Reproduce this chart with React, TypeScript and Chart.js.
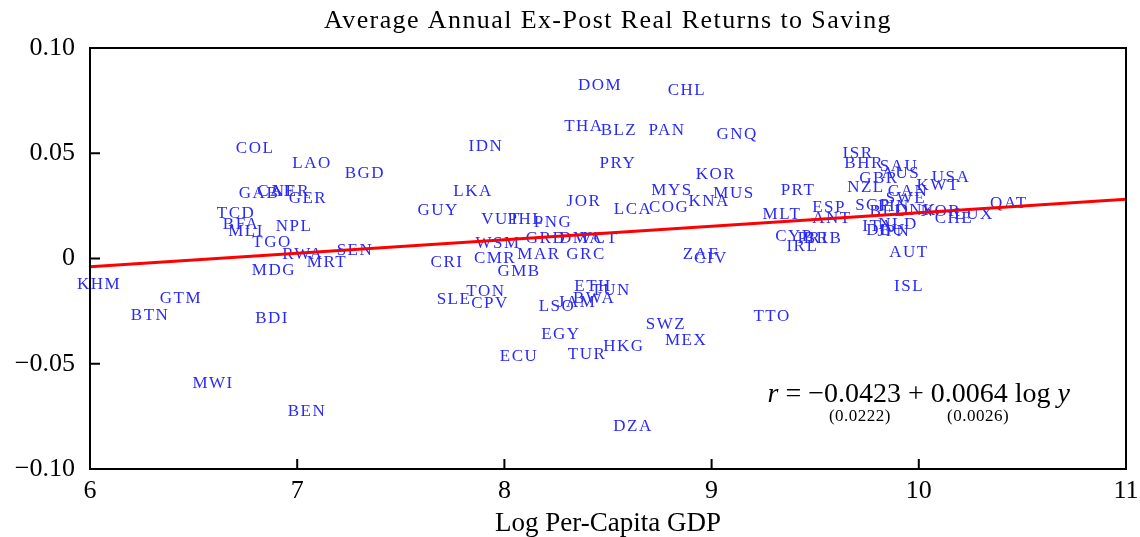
import React, { useEffect, useRef } from "react";
import { Chart, registerables } from "chart.js";

Chart.register(...registerables);

const countries = [
  "KHM","BTN","GTM","MWI","COL","TCD","BFA","MLI","GAB","CAF","NER","GER","NPL","TGO","MDG","BDI","LAO","RWA","MRT","BEN",
  "SEN","BGD","GUY","CRI","SLE","LKA","IDN","TON","CPV","CMR","WSM","VUT","GMB","ECU","PHL","MAR","GRD","PNG","LSO","EGY",
  "JAM","DMA","THA","JOR","GRC","TUR","ETH","BWA","VCT","DOM","TUN","PRY","BLZ","HKG","LCA","DZA","SWZ","PAN","COG","MYS",
  "MEX","CHL","ZAF","KNA","CIV","KOR","MUS","GNQ","TTO","MLT","CYP","PRT","IRL","PRI","BRB","ESP","ANT","ISR","BHR","NZL",
  "SGP","ITA","GBR","BEL","DEU","FIN","JPN","NLD","SAU","AUS","SWE","CAN","AUT","ISL","DNK","KWT","NOR","USA","CHE","LUX","QAT",
];
const logGdp = [
  6.039,6.285,6.434,6.589,6.792,6.700,6.724,6.748,6.811,6.893,6.965,7.047,6.980,6.874,6.883,6.874,7.067,7.023,7.139,7.042,
  7.274,7.322,7.675,7.718,7.752,7.844,7.906,7.906,7.926,7.950,7.964,7.979,8.066,8.066,8.099,8.162,8.196,8.230,8.249,8.268,
  8.346,8.365,8.379,8.379,8.389,8.394,8.423,8.428,8.452,8.457,8.510,8.543,8.548,8.572,8.616,8.616,8.775,8.780,8.790,8.804,
  8.872,8.876,8.944,8.983,8.992,9.016,9.103,9.118,9.287,9.335,9.393,9.412,9.433,9.485,9.533,9.562,9.576,9.702,9.731,9.740,
  9.774,9.798,9.803,9.846,9.837,9.875,9.875,9.895,9.900,9.909,9.933,9.943,9.948,9.948,9.982,10.088,10.102,10.151,10.165,10.262,10.430,
];
const realReturn = [
  -0.0126,-0.0273,-0.0188,-0.0596,0.0524,0.0216,0.0159,0.0126,0.0311,0.0316,0.0316,0.0283,0.0154,0.0074,-0.0059,-0.0283,0.0449,0.0021,-0.0017,-0.0729,
  0.0040,0.0406,0.0230,-0.0021,-0.0197,0.0316,0.0534,-0.0159,-0.0216,0.0002,0.0069,0.0183,-0.0064,-0.0468,0.0183,0.0021,0.0097,0.0173,-0.0226,-0.0363,
  -0.0207,0.0097,0.0625,0.0273,0.0021,-0.0454,-0.0135,-0.0192,0.0097,0.0824,-0.0154,0.0449,0.0610,-0.0420,0.0235,-0.0800,-0.0316,0.0606,0.0240,0.0321,
  -0.0392,0.0796,0.0017,0.0273,0.0000,0.0397,0.0311,0.0591,-0.0278,0.0211,0.0102,0.0321,0.0059,0.0097,0.0097,0.0240,0.0192,0.0501,0.0449,0.0335,
  0.0254,0.0150,0.0382,0.0221,0.0135,0.0245,0.0126,0.0159,0.0435,0.0406,0.0287,0.0316,0.0026,-0.0131,0.0226,0.0349,0.0221,0.0387,0.0192,0.0207,0.0259,
];

const fitX = [6, 11];
const fitY = [-0.0039, 0.0281];

const xTickValues = [6, 7, 8, 9, 10, 11];
const yTickValues = [-0.1, -0.05, 0, 0.05, 0.1];
const yTickLabels = ["\u22120.10", "\u22120.05", "0", "0.05", "0.10"];

const titleText = "Average Annual Ex-Post Real Returns to Saving";
const xAxisTitle = "Log Per-Capita GDP";
const formulaMain = ["r", " = \u22120.0423 + 0.0064 log ", "y"];
const formulaSE = ["(0.0222)", "(0.0026)"];
const formulaPos = { x: 10.0, y: -0.0648 };
const sePosX = [9.716, 10.286];
const sePosY = -0.0752;

const SERIF = "'Liberation Serif', 'Times New Roman', serif";

const setSpacing = (ctx: any, v: string) => {
  try { ctx.letterSpacing = v; } catch (e) {}
};

const overlayPlugin = {
  id: "overlay",
  beforeDatasetsDraw(chart: any) {
    const { ctx, scales } = chart;
    const xs = scales.x;
    const ys = scales.y;
    ctx.save();
    ctx.font = `17px ${SERIF}`;
    setSpacing(ctx, "1.5px");
    ctx.fillStyle = "#2a2af8";
    ctx.textAlign = "center";
    ctx.textBaseline = "middle";
    countries.forEach((c, i) => {
      ctx.fillText(c, xs.getPixelForValue(logGdp[i]) + 1, ys.getPixelForValue(realReturn[i]));
    });
    ctx.restore();
  },
  afterDraw(chart: any) {
    const { ctx, chartArea, scales } = chart;
    const xs = scales.x;
    const ys = scales.y;
    const { left, right, top, bottom } = chartArea;
    ctx.save();
    ctx.strokeStyle = "#000";
    ctx.lineWidth = 2;
    ctx.strokeRect(left, top, right - left, bottom - top);
    const tl = 10;
    ctx.beginPath();
    yTickValues.forEach((v) => {
      const py = ys.getPixelForValue(v);
      ctx.moveTo(left, py);
      ctx.lineTo(left + tl, py);
    });
    xTickValues.forEach((v) => {
      const px = xs.getPixelForValue(v);
      ctx.moveTo(px, bottom);
      ctx.lineTo(px, bottom - tl);
    });
    ctx.stroke();

    ctx.fillStyle = "#000";
    ctx.textAlign = "center";
    ctx.textBaseline = "middle";
    ctx.font = `26px ${SERIF}`;
    setSpacing(ctx, "1.4px");
    ctx.fillText(titleText, (left + right) / 2, 21);

    setSpacing(ctx, "0px");
    const fx = xs.getPixelForValue(formulaPos.x);
    const fy = ys.getPixelForValue(formulaPos.y);
    const fonts = [`italic 28px ${SERIF}`, `28px ${SERIF}`, `italic 28px ${SERIF}`];
    const widths = formulaMain.map((t, i) => {
      ctx.font = fonts[i];
      return ctx.measureText(t).width;
    });
    const total = widths.reduce((a, b) => a + b, 0);
    let cx = fx - total / 2;
    ctx.textAlign = "left";
    formulaMain.forEach((t, i) => {
      ctx.font = fonts[i];
      ctx.fillText(t, cx, fy);
      cx += widths[i];
    });
    ctx.textAlign = "center";
    ctx.font = `17px ${SERIF}`;
    setSpacing(ctx, "0.5px");
    formulaSE.forEach((t, i) => {
      ctx.fillText(t, xs.getPixelForValue(sePosX[i]), ys.getPixelForValue(sePosY));
    });
    ctx.restore();
  },
};

export default function App() {
  const canvasRef = useRef<HTMLCanvasElement | null>(null);

  useEffect(() => {
    document.body.style.margin = "0";
    const canvas = canvasRef.current;
    if (!canvas) return;
    const chart = new Chart(canvas, {
      type: "scatter",
      data: {
        datasets: [
          {
            type: "line",
            label: "fit",
            data: fitX.map((x, i) => ({ x, y: fitY[i] })),
            borderColor: "#ff0000",
            borderWidth: 3,
            pointRadius: 0,
            fill: false,
          } as any,
        ],
      },
      options: {
        responsive: false,
        animation: false,
        devicePixelRatio: 1,
        layout: { padding: { top: 48, right: 14, left: 0, bottom: 0 } },
        plugins: {
          legend: { display: false },
          tooltip: { enabled: false },
          title: { display: false },
        },
        scales: {
          x: {
            type: "linear",
            min: 6,
            max: 11,
            afterBuildTicks: (scale: any) => {
              scale.ticks = xTickValues.map((v) => ({ value: v }));
            },
            afterFit: (scale: any) => {
              scale.height = 68;
              scale.paddingLeft = 0;
              scale.paddingRight = 0;
            },
            grid: { display: true, drawOnChartArea: false, drawTicks: false },
            border: { display: false },
            ticks: {
              padding: 7,
              color: "#000",
              font: { family: SERIF, size: 26 },
              maxRotation: 0,
              callback: (v: any) => String(v),
            },
            title: {
              display: true,
              text: xAxisTitle,
              color: "#000",
              font: { family: SERIF, size: 27 },
              padding: { top: 0, bottom: -3 },
            },
          },
          y: {
            type: "linear",
            min: -0.1,
            max: 0.1,
            afterBuildTicks: (scale: any) => {
              scale.ticks = yTickValues.map((v) => ({ value: v }));
            },
            afterFit: (scale: any) => {
              scale.width = 90;
              scale.paddingTop = 0;
              scale.paddingBottom = 0;
            },
            grid: { display: true, drawOnChartArea: false, drawTicks: false },
            border: { display: false },
            ticks: {
              padding: 15,
              color: "#000",
              font: { family: SERIF, size: 26 },
              callback: (v: any) => {
                const idx = yTickValues.findIndex((t) => Math.abs(t - Number(v)) < 1e-9);
                return idx >= 0 ? yTickLabels[idx] : "";
              },
            },
          },
        },
      },
      plugins: [overlayPlugin],
    });
    return () => chart.destroy();
  }, []);

  return (
    <div style={{ position: "fixed", left: 0, top: 0, width: 1140, height: 537, background: "#fff" }}>
      <canvas ref={canvasRef} width={1140} height={537} style={{ width: 1140, height: 537 }} />
    </div>
  );
}
